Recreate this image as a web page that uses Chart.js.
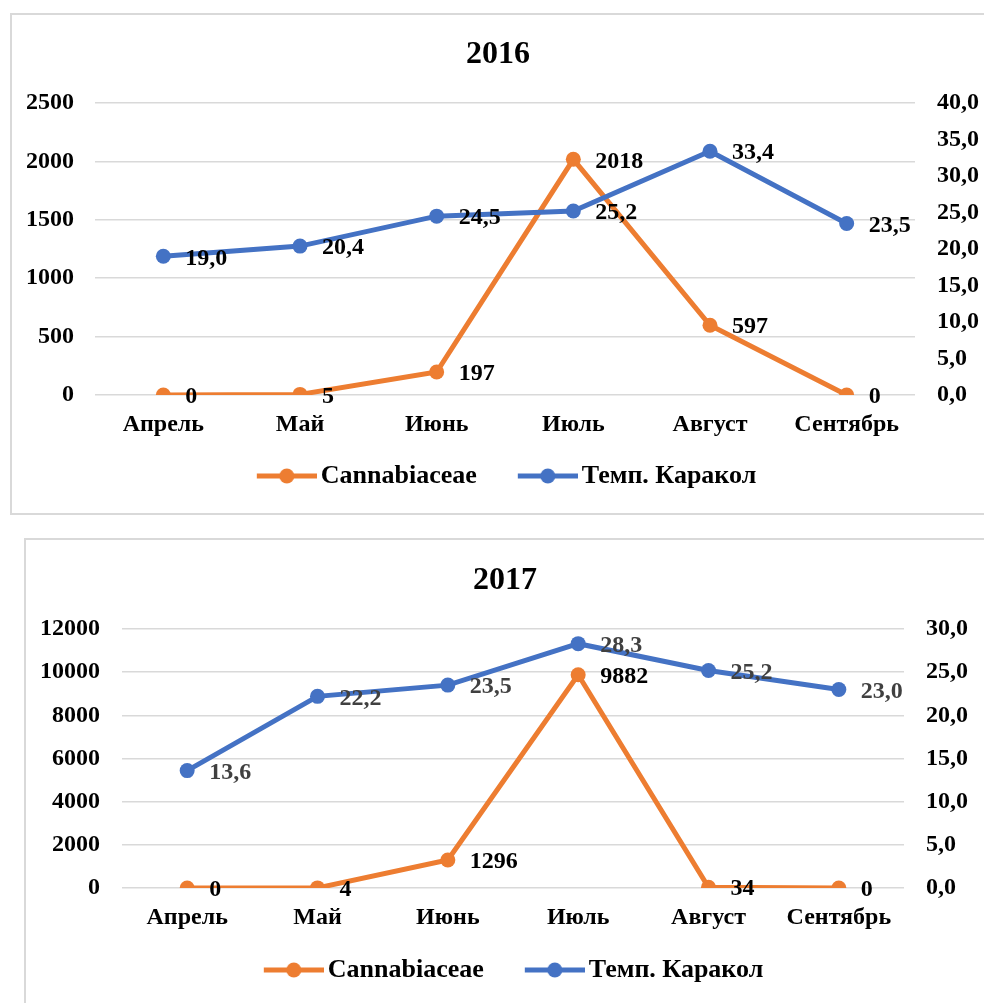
<!DOCTYPE html>
<html>
<head>
<meta charset="utf-8">
<script src="https://cdn.jsdelivr.net/npm/chart.js@4"></script>
<style>
    body { margin: 0; background: #fff; width: 984px; height: 1003px; overflow: hidden; position: relative; }
    .box { position: absolute; border: 2px solid #d9d9d9; background: #fff; }
    canvas { position: absolute; }
</style>
</head>
<body>
<div class="box" style="left: 10px; top: 13px; width: 1000px; height: 498px;"></div>
<canvas id="c2016" width="972" height="498" style="left: 12px; top: 15px;"></canvas>
<div class="box" style="left: 24px; top: 538px; width: 1000px; height: 500px;"></div>
<canvas id="c2017" width="958" height="463" style="left: 26px; top: 540px;"></canvas>

<script>
const months = ["Апрель", "Май", "Июнь", "Июль", "Август", "Сентябрь"]

const cannabis2016 = [0, 5, 197, 2018, 597, 0]
const temp2016 = [19.0, 20.4, 24.5, 25.2, 33.4, 23.5]

const cannabis2017 = [0, 4, 1296, 9882, 34, 0]
const temp2017 = [13.6, 22.2, 23.5, 28.3, 25.2, 23.0]

const ORANGE = "#ED7D31"
const BLUE = "#4472C4"
const FONT = '"Liberation Serif", "Times New Roman", serif'

Chart.defaults.font.family = FONT
Chart.defaults.font.weight = "bold"
Chart.defaults.color = "#000"

const comma = v => v.toFixed(1).replace(".", ",")

// линия с точкой для легенды (слева прозрачный отступ между пунктами)
function legendIcon(color) {
    const c = document.createElement("canvas")
    c.width = 86
    c.height = 18
    const g = c.getContext("2d")
    g.strokeStyle = color
    g.lineWidth = 5
    g.beginPath()
    g.moveTo(26, 9)
    g.lineTo(86, 9)
    g.stroke()
    g.fillStyle = color
    g.beginPath()
    g.arc(56, 9, 7.5, 0, Math.PI * 2)
    g.fill()
    return c
}

const valueLabels = {
    id: "valueLabels",
    afterDatasetsDraw(chart) {
        const ctx = chart.ctx
        chart.data.datasets.forEach((ds, i) => {
            const meta = chart.getDatasetMeta(i)
            ctx.save()
            ctx.font = `bold 24px ${FONT}`
            ctx.fillStyle = ds.labelColor
            ctx.textAlign = "left"
            ctx.textBaseline = "middle"
            meta.data.forEach((pt, j) => {
                ctx.fillText(ds.fmt(ds.data[j]), pt.x + 22, pt.y + 2)
            })
            ctx.restore()
        })
    }
}

function makeChart(id, title, cannabis, temp, leftMax, leftStep, rightMax, lay) {
    new Chart(document.getElementById(id), {
        type: "line",
        data: {
            labels: months,
            datasets: [
                {
                    label: "Cannabiaceae",
                    data: cannabis,
                    yAxisID: "y",
                    borderColor: ORANGE,
                    backgroundColor: ORANGE,
                    borderWidth: 5,
                    pointRadius: 7.5,
                    pointBorderWidth: 0,
                    order: 1,
                    labelColor: "#000",
                    fmt: v => String(v)
                },
                {
                    label: "Темп. Каракол",
                    data: temp,
                    yAxisID: "y1",
                    borderColor: BLUE,
                    backgroundColor: BLUE,
                    borderWidth: 5,
                    pointRadius: 7.5,
                    pointBorderWidth: 0,
                    order: 0,
                    labelColor: lay.tempColor,
                    fmt: comma
                }
            ]
        },
        options: {
            responsive: false,
            animation: false,
            layout: { padding: { left: 0, right: 0, top: 0, bottom: lay.bottom } },
            plugins: {
                tooltip: { enabled: false },
                title: {
                    display: true,
                    text: title,
                    color: "#000",
                    font: { size: 32, weight: "bold" },
                    padding: { top: lay.titleTop, bottom: lay.titleBottom }
                },
                legend: {
                    position: "bottom",
                    labels: {
                        usePointStyle: true,
                        pointStyleWidth: 68,
                        padding: 24,
                        color: "#000",
                        font: { size: 26, weight: "bold" },
                        sort: (a, b) => a.datasetIndex - b.datasetIndex,
                        generateLabels(chart) {
                            const items = Chart.defaults.plugins.legend.labels.generateLabels(chart)
                            items.forEach(it => {
                                it.pointStyle = legendIcon(it.datasetIndex == 0 ? ORANGE : BLUE)
                            })
                            return items
                        }
                    }
                }
            },
            scales: {
                x: {
                    offset: true,
                    grid: { display: false, drawTicks: false },
                    border: { display: false },
                    ticks: { padding: 15, font: { size: 24, weight: "bold" }, color: "#000" },
                    afterFit(s) { s.height = lay.xHeight }
                },
                y: {
                    position: "left",
                    min: 0,
                    max: leftMax,
                    grid: { color: "#d9d9d9", lineWidth: 1.5, drawTicks: false },
                    border: { display: false },
                    ticks: {
                        stepSize: leftStep,
                        padding: lay.leftPad,
                        font: { size: 24, weight: "bold" },
                        color: "#000",
                        callback: v => String(v)
                    },
                    afterFit(s) { s.width = lay.leftW }
                },
                y1: {
                    position: "right",
                    min: 0,
                    max: rightMax,
                    grid: { drawOnChartArea: false, drawTicks: false },
                    border: { display: false },
                    ticks: {
                        stepSize: 5,
                        padding: lay.rightPad,
                        font: { size: 24, weight: "bold" },
                        color: "#000",
                        callback: v => comma(v)
                    },
                    afterFit(s) { s.width = lay.rightW }
                }
            }
        },
        plugins: [valueLabels]
    })
}

makeChart("c2016", "2016", cannabis2016, temp2016, 2500, 500, 40, {
    bottom: 14, titleTop: 21, titleBottom: 28.6, xHeight: 44,
    leftW: 83, leftPad: 21, rightW: 69, rightPad: 22, tempColor: "#000"
})

makeChart("c2017", "2017", cannabis2017, temp2017, 12000, 2000, 30, {
    bottom: 10, titleTop: 21.8, titleBottom: 28.8, xHeight: 45,
    leftW: 96, leftPad: 22, rightW: 80, rightPad: 22, tempColor: "#404040"
})
</script>
</body>
</html>
